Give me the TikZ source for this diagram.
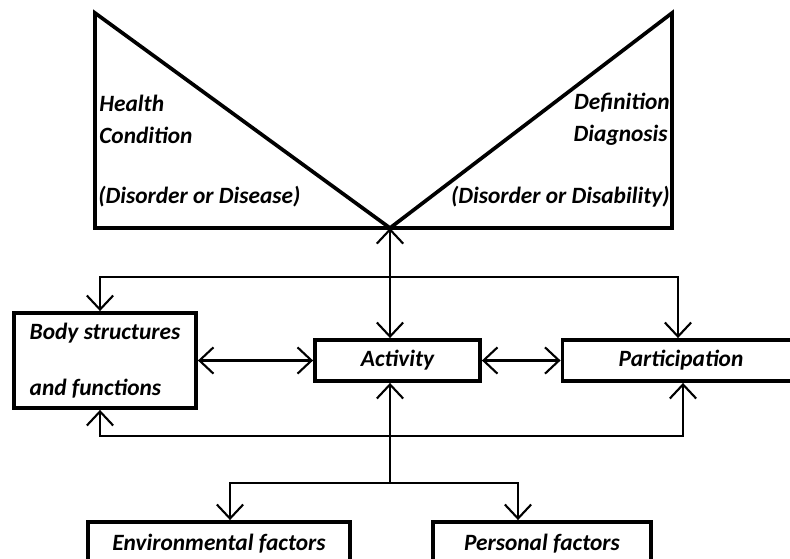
\documentclass[tikz,border=0pt]{standalone}
\usepackage{fontspec}
\setmainfont{Carlito}
\usepackage{tikz}
\usetikzlibrary{arrows.meta}

\begin{document}
\begin{tikzpicture}[x=0.02cm, y=-0.02cm,
  box/.style={draw, line width=2.2pt, inner sep=0pt, font=\fontsize{13.3}{15}\selectfont\bfseries\itshape},
  lbl/.style={inner sep=0pt, font=\fontsize{13.3}{15}\selectfont\bfseries\itshape},
  link/.style={line width=1.2pt, -{Straight Barb[length=8pt,width=15pt,line width=1.2pt]}},
  biglink/.style={line width=1.2pt, {Straight Barb[length=8pt,width=15pt,line width=1.2pt]}-{Straight Barb[length=8pt,width=15pt,line width=1.2pt]}}]
\clip (0,0) rectangle (790,558);
\fill[white] (0,0) rectangle (790,558);

% top panel
\coordinate (tl) at (95,13);
\coordinate (bl) at (95,228);
\coordinate (v) at (390,228);
\coordinate (br) at (672,228);
\coordinate (tr) at (672,13);
\draw[line width=2.1pt, line join=miter] (tl) -- (bl) -- (br) -- (tr) -- (v) -- cycle;

\node[lbl, anchor=west] (health) at (99,103) {Health};
\node[lbl, anchor=west] (cond) at (99,135) {Condition};
\node[lbl, anchor=west] (dis1) at (98,197) {(Disorder or Disease)};
\node[lbl, anchor=east] (defn) at (670,103) {Definition};
\node[lbl, anchor=east] (diag) at (668,135) {Diagnosis};
\node[lbl, anchor=east] (dis2) at (670,197) {(Disorder or Disability)};

% boxes
\node[box, minimum width=3.64cm, minimum height=1.9cm, align=left] (body) at (105,360.5) {Body structures\\[17pt]and functions};
\node[box, minimum width=3.3cm, minimum height=0.82cm] (act) at (397.5,360.5) {Activity};
\node[box, minimum width=4.74cm, minimum height=0.82cm] (part) at (681,360.5) {Participation};
\node[box, minimum width=5.24cm, minimum height=0.88cm] (env) at (219,544) {Environmental factors};
\node[box, minimum width=4.36cm, minimum height=0.88cm] (pers) at (542,544) {Personal factors};

% connectors
\coordinate (ul) at (100,277);
\coordinate (ur) at (678,277);
\coordinate (ll) at (100,436);
\coordinate (lr) at (683,436);
\coordinate (fj) at (390,483);
\coordinate (fl) at (230,483);
\coordinate (fr) at (518,483);

\draw[biglink] (v) -- (v |- act.north);
\draw[link] (ur) -- (ul) -- (ul |- body.north);
\draw[link] (ul) -- (ur) -- (ur |- part.north);
\draw[link] (lr) -- (ll) -- (ll |- body.south);
\draw[link] (ll) -- (lr) -- (lr |- part.south);
\draw[biglink] (body.east) -- (act.west);
\draw[biglink] (act.east) -- (part.west);
\draw[link] (fj) -- (fj |- act.south);
\draw[link] (fr) -- (fl) -- (fl |- env.north);
\draw[link] (fl) -- (fr) -- (fr |- pers.north);
\end{tikzpicture}
\end{document}
